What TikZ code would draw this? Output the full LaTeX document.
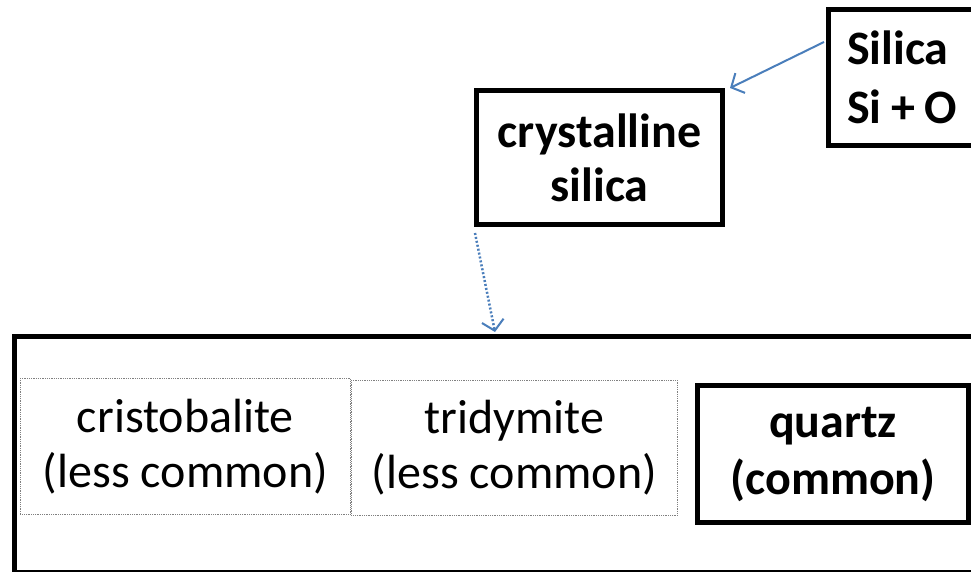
\documentclass[tikz,border=0pt]{standalone}
\usepackage{fontspec}
\setmainfont{Carlito}
\usetikzlibrary{arrows.meta,calc}
\definecolor{officeblue}{HTML}{4A7EBB}
\begin{document}
\begin{tikzpicture}[x=1pt,y=-1pt,
  thickbox/.style={draw=black,line width=5pt,inner sep=0pt,align=center,font=\fontsize{48}{55}\selectfont\bfseries},
  dotbox/.style={draw=gray,densely dotted,line width=0.8pt,inner sep=0pt,align=center,font=\fontsize{48}{55}\selectfont},
  conn/.style={draw=officeblue,line width=2pt,-{Straight Barb[length=10pt,width=22pt,line width=2pt]}}]
\useasboundingbox (0,0) rectangle (971,572);
\clip (0,0) rectangle (971,572);
\fill[white] (0,0) rectangle (971,572);
% outer container
\node[draw=black,line width=4.5pt,minimum width=1000pt,minimum height=236pt,anchor=north west] (group) at (12,334) {};
% Silica
\node[thickbox,anchor=north west,minimum width=175pt,minimum height=136pt,text width=150pt,align=left,inner xsep=0pt,font=\fontsize{48}{59}\selectfont\bfseries] (silica) at (826,7) {\hspace*{6pt}Silica\\\hspace*{6pt}{\spaceskip=0.2em Si + O}};
% crystalline silica
\node[thickbox,anchor=north west,minimum width=246pt,minimum height=134pt,font=\fontsize{48}{54}\selectfont\bfseries] (cryst) at (474,88) {crystalline\\silica};
% polymorphs
\node[dotbox,anchor=north west,minimum width=330pt,minimum height=136pt] (cristo) at (20,378) {cristobalite\\(less common)};
\node[dotbox,anchor=north west,minimum width=326pt,minimum height=135pt] (trid) at (351,380) {tridymite\\(less common)};
\node[thickbox,anchor=north west,minimum width=271pt,minimum height=137pt,font=\fontsize{48}{57}\selectfont\bfseries] (quartz) at (695,383) {quartz\\(common)};
% connectors
\coordinate (s1) at ($(silica.north west)+(-2,35)$);
\coordinate (c1) at (730,88);
\draw[conn] (s1) -- (c1);
\coordinate (c2) at ($(cryst.south west)+(1,6)$);
\coordinate (g1) at (495,332);
\draw[conn,dotted,line width=2.5pt] (c2) -- (g1);
\end{tikzpicture}
\end{document}
